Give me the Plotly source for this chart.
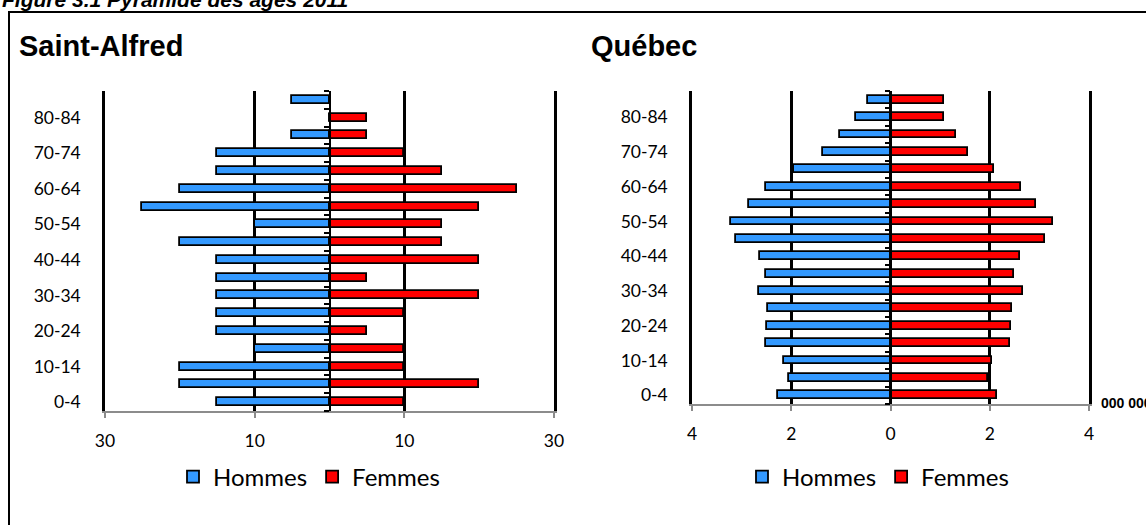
import plotly.graph_objects as go

# ---------------- data ----------------
categories = ["0-4", "5-9", "10-14", "15-19", "20-24", "25-29", "30-34", "35-39",
              "40-44", "45-49", "50-54", "55-59", "60-64", "65-69", "70-74",
              "75-79", "80-84", "85+"]

sa_hommes = [15, 20, 20, 10, 15, 15, 15, 15, 15, 20, 10, 25, 20, 15, 15, 5, 0, 5]
sa_femmes = [10, 20, 10, 10, 5, 10, 20, 5, 20, 15, 15, 20, 25, 15, 10, 5, 5, 0]

qc_hommes = [2.26, 2.04, 2.14, 2.50, 2.48, 2.47, 2.65, 2.50, 2.62, 3.12, 3.21,
             2.86, 2.51, 1.94, 1.36, 1.01, 0.69, 0.46]
qc_femmes = [2.15, 1.96, 2.04, 2.41, 2.42, 2.45, 2.66, 2.49, 2.60, 3.12, 3.28,
             2.94, 2.62, 2.09, 1.56, 1.32, 1.07, 1.08]

sa_tickvals = [-30, -10, 10, 30]
sa_ticktext = ["30", "10", "10", "30"]
qc_tickvals = [-4, -2, 0, 2, 4]
qc_ticktext = ["4", "2", "0", "2", "4"]

fig_title = "Figure 3.1 Pyramide des âges 2011"
chart_titles = ["Saint-Alfred", "Québec"]
series_names = ["Hommes", "Femmes"]
unit_label = "000 000"

# ---------------- layout helpers ----------------
W, H = 1146, 525
def px(x):
    return x / W
def py(y):
    return 1 - y / H

BLUE = "#3399FF"
RED = "#FF0000"
LABEL_FONT = dict(family="Lato, 'Open Sans', sans-serif", size=17.5, color="#000000")

sa_xdom = [px(105), px(554)]
sa_ydom = [py(411), py(91)]
qc_xdom = [px(692), px(1089)]
qc_ydom = [py(404), py(91)]
sa_range = [-30, 30]
qc_range = [-4, 4]
yrange = [-0.5, len(categories) - 0.5]
boundaries = [i - 0.5 for i in range(len(categories) + 1)]

def center_pos(dom, rng):
    return dom[0] + (0 - rng[0]) / (rng[1] - rng[0]) * (dom[1] - dom[0])

fig = go.Figure()

def add_pyramid(hommes, femmes, xa, ya, ya_c, legend):
    fig.add_trace(go.Bar(
        y=categories, x=[-v for v in hommes], customdata=hommes, orientation="h",
        name=series_names[0], marker=dict(color=BLUE, line=dict(color="black", width=1.8)),
        width=0.45, xaxis=xa, yaxis=ya, legend=legend,
        hovertemplate="%{y}: %{customdata}<extra>" + series_names[0] + "</extra>"))
    fig.add_trace(go.Bar(
        y=categories, x=femmes, orientation="h",
        name=series_names[1], marker=dict(color=RED, line=dict(color="black", width=1.8)),
        width=0.45, xaxis=xa, yaxis=ya, legend=legend,
        hovertemplate="%{y}: %{x}<extra>" + series_names[1] + "</extra>"))
    # invisible helper so the centre axis (with its ticks) is drawn
    fig.add_trace(go.Scatter(x=[0], y=[0], mode="markers", marker=dict(opacity=0),
                             xaxis=xa, yaxis=ya_c, showlegend=False, hoverinfo="skip"))

add_pyramid(sa_hommes, sa_femmes, "x", "y", "y3", "legend")
add_pyramid(qc_hommes, qc_femmes, "x2", "y2", "y4", "legend2")

xcommon = dict(showgrid=True, gridcolor="black", gridwidth=2.5, zeroline=False,
               showline=True, linecolor="#8C8C8C", linewidth=2,
               ticks="outside", ticklen=5, tickcolor="#8C8C8C", tickwidth=1.5,
               tickfont=LABEL_FONT, fixedrange=True, automargin=False)
ycommon = dict(type="category", categoryorder="array", categoryarray=categories,
               range=yrange, showgrid=False, zeroline=False,
               showline=True, mirror=True, linecolor="black", linewidth=2.5,
               ticks="", tickvals=categories[::2], ticktext=categories[::2],
               tickfont=LABEL_FONT, ticklabelstandoff=18, fixedrange=True,
               automargin=False)
ycenter = dict(range=yrange, showgrid=False, zeroline=False, showline=True,
               linecolor="black", linewidth=2, ticks="outside", ticklen=5,
               tickwidth=2, tickcolor="black", tickvals=boundaries,
               showticklabels=False, anchor="free", side="left",
               fixedrange=True, automargin=False)

LEGEND_FONT = dict(family="Lato, sans-serif", size=24, color="#000")

fig.update_layout(
    width=W, height=H, margin=dict(l=0, r=0, t=0, b=0),
    paper_bgcolor="white", plot_bgcolor="white", barmode="overlay",
    bargap=0,
    xaxis=dict(domain=sa_xdom, range=sa_range, tickvals=sa_tickvals,
               ticktext=sa_ticktext, anchor="y", ticklabelstandoff=8, **xcommon),
    yaxis=dict(domain=sa_ydom, anchor="x", **ycommon),
    xaxis2=dict(domain=qc_xdom, range=qc_range, tickvals=qc_tickvals,
                ticktext=qc_ticktext, anchor="y2", ticklabelstandoff=8, **xcommon),
    yaxis2=dict(domain=qc_ydom, anchor="x2", **ycommon),
    yaxis3=dict(overlaying="y", position=center_pos(sa_xdom, sa_range), **ycenter),
    yaxis4=dict(overlaying="y2", position=center_pos(qc_xdom, qc_range), **ycenter),
    legend=dict(orientation="h", x=px(309), xanchor="center", y=py(477), yanchor="middle",
                font=LEGEND_FONT, bgcolor="rgba(0,0,0,0)", itemwidth=30,
                traceorder="normal"),
    legend2=dict(orientation="h", x=px(878), xanchor="center", y=py(477), yanchor="middle",
                 font=LEGEND_FONT, bgcolor="rgba(0,0,0,0)", itemwidth=30,
                 traceorder="normal"),
    showlegend=True,
    font=dict(family="Lato, sans-serif", color="#000"),
)

# outer frame (extends past right/bottom edges, as in the original page)
fig.add_shape(type="rect", xref="paper", yref="paper", x0=px(9), y0=py(12),
              x1=px(1160), y1=py(540), line=dict(color="black", width=2),
              fillcolor="rgba(0,0,0,0)", layer="below")

fig.add_annotation(text="<b><i>" + fig_title + "</i></b>", xref="paper", yref="paper",
                   x=px(0), y=py(13), xanchor="left", yanchor="bottom", showarrow=False,
                   font=dict(family="Liberation Sans, Arial, sans-serif", size=21, color="black"))
fig.add_annotation(text="<b>" + chart_titles[0] + "</b>", xref="paper", yref="paper",
                   x=px(17), y=py(46), xanchor="left", yanchor="middle", showarrow=False,
                   font=dict(family="Liberation Sans, Arial, sans-serif", size=29, color="black"))
fig.add_annotation(text="<b>" + chart_titles[1] + "</b>", xref="paper", yref="paper",
                   x=px(589), y=py(46), xanchor="left", yanchor="middle", showarrow=False,
                   font=dict(family="Liberation Sans, Arial, sans-serif", size=29, color="black"))
fig.add_annotation(text="<b>" + unit_label + "</b>", xref="paper", yref="paper",
                   x=px(1099), y=py(403), xanchor="left", yanchor="middle", showarrow=False,
                   font=dict(family="Liberation Sans, Arial, sans-serif", size=14, color="black"))

fig.write_html("out.html", config={"displayModeBar": False},
               post_script="document.body.style.margin='0px';")
